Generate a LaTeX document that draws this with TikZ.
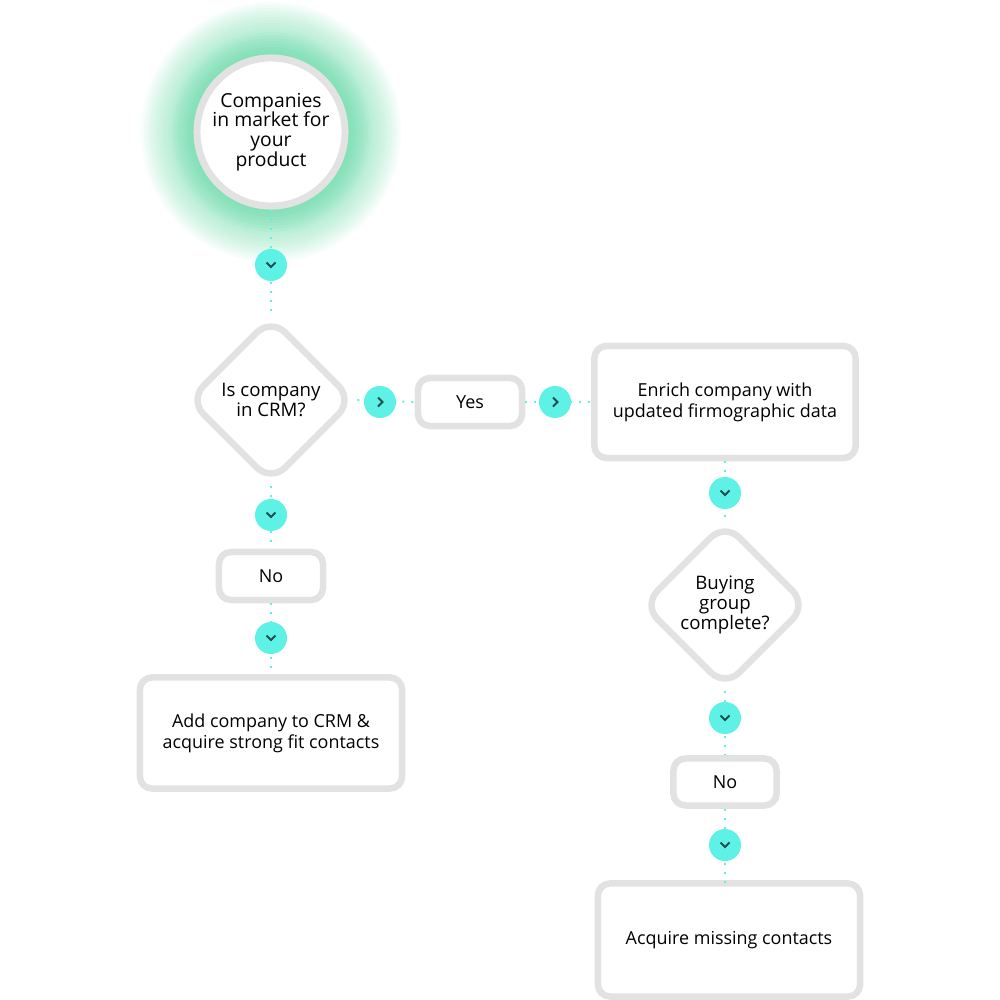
\documentclass[tikz,border=0pt]{standalone}
\usepackage{fontspec}
\setmainfont{Open Sans}
\usetikzlibrary{shapes.geometric}
\definecolor{bord}{HTML}{E2E2E2}
\definecolor{cyn}{HTML}{5EF2E6}
\definecolor{glow}{HTML}{5CD6A0}
\definecolor{chev}{HTML}{1E4E52}
\begin{document}
\begin{tikzpicture}[x=0.01cm,y=-0.01cm,
  box/.style={draw=bord,line width=0.065cm,rounded corners=0.12cm,fill=white,align=center,font=\fontsize{5.1}{6.0}\selectfont,inner sep=0},
  dia/.style={draw=bord,line width=0.065cm,rounded corners=0.2cm,fill=white,diamond,minimum width=1.66cm,minimum height=1.66cm,inner sep=0,align=center,font=\fontsize{5.3}{5.6}\selectfont},
  conn/.style={cyn,line width=0.02cm,dash pattern=on 0.02cm off 0.07cm},
  dn/.style={circle,fill=cyn,minimum size=0.32cm,inner sep=0,path picture={\draw[chev,line width=0.02cm] (-0.045cm,0.025cm)--(0,-0.02cm)--(0.045cm,0.025cm);}},
  rt/.style={circle,fill=cyn,minimum size=0.32cm,inner sep=0,path picture={\draw[chev,line width=0.02cm] (-0.02cm,0.045cm)--(0.025cm,0)--(-0.02cm,-0.045cm);}}]
\useasboundingbox (0,0) rectangle (1000,1000);
% glow
\foreach \r in {130,127,...,76}{\fill[glow,opacity=0.05] (271,132) circle (\r);}
\foreach \r in {100,97,...,76}{\fill[glow,opacity=0.06] (271,132) circle (\r);}
\node[circle,draw=bord,line width=0.07cm,fill=white,minimum size=1.48cm,inner sep=0,align=center,font=\fontsize{5.5}{5.6}\selectfont] (c) at (271,132) {Companies\\in market for\\your\\product};
\node[dia] (d1) at (271,400) {Is company\\in CRM?};
\node[box,minimum width=1.04cm,minimum height=0.48cm] (yes) at (470,402) {Yes};
\node[box,minimum width=2.61cm,minimum height=1.12cm] (en) at (725,402) {Enrich company with\\updated firmographic data};
\node[box,minimum width=1.04cm,minimum height=0.48cm] (no1) at (271,576) {No};
\node[box,minimum width=2.62cm,minimum height=1.11cm] (add) at (271,733) {Add company to CRM \&\\acquire strong fit contacts};
\node[dia] (d2) at (725,605) {Buying\\group\\complete?};
\node[box,minimum width=1.03cm,minimum height=0.47cm] (no2) at (725,782) {No};
\node[box,minimum width=2.62cm,minimum height=1.13cm] (acq) at (729,940) {Acquire missing contacts};
% connectors
\draw[conn] (c.south) -- (d1.north);
\draw[conn] (d1.east) -- (yes.west);
\draw[conn] (yes.east) -- (en.west);
\draw[conn] (d1.south) -- (no1.north);
\draw[conn] (no1.south) -- (add.north);
\draw[conn] (en.south) -- (d2.north);
\draw[conn] (d2.south) -- (no2.north);
\draw[conn] (no2.south) -- (725,883);
\node[dn] (a1) at (271,265) {};
\node[rt] (a2) at (380,402) {};
\node[rt] (a3) at (555,402) {};
\node[dn] (a4) at (271,515) {};
\node[dn] (a5) at (271,638) {};
\node[dn] (a6) at (725,493) {};
\node[dn] (a7) at (725,718) {};
\node[dn] (a8) at (725,845) {};
\end{tikzpicture}
\end{document}
